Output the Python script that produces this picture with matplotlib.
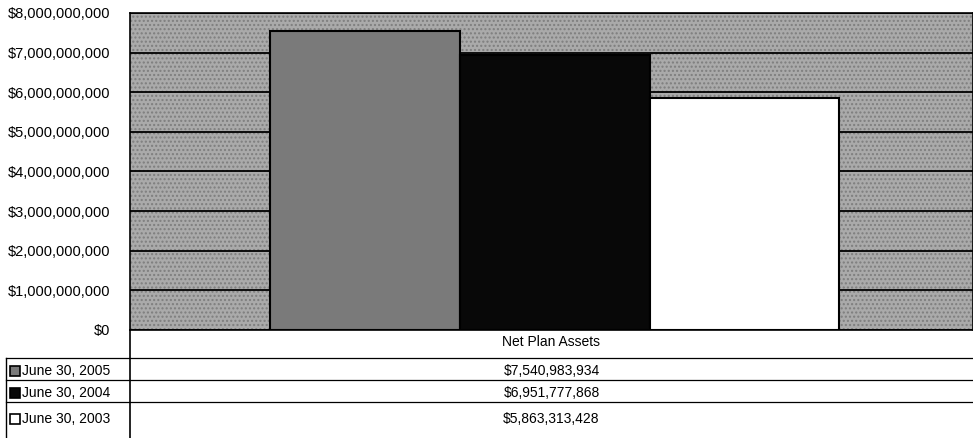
import matplotlib.pyplot as plt
from matplotlib.ticker import FuncFormatter

plt.rcParams['font.family'] = ['Liberation Sans', 'DejaVu Sans']

# data
category = 'Net Plan Assets'
series_labels = ['June 30, 2005', 'June 30, 2004', 'June 30, 2003']
series_values = [7540983934, 6951777868, 5863313428]
bar_colors = ['#7a7a7a', '#080808', '#ffffff']
y_ticks = [0, 1e9, 2e9, 3e9, 4e9, 5e9, 6e9, 7e9, 8e9]

W, H = 973, 438
fig = plt.figure(figsize=(W / 100, H / 100), dpi=100)

# main plot area (pixel box: x 130-973, y 13-330)
ax = fig.add_axes([130 / W, (H - 330) / H, 843 / W, (330 - 13) / H])
ax.set_facecolor('#aaaaaa')
ax.patch.set_hatch('....')
ax.patch.set_edgecolor('#7e7e7e')

bar_w = 0.225
offset = 0.004
for i, (lab, v, c) in enumerate(zip(series_labels, series_values, bar_colors)):
    ax.bar((i - 1) * bar_w + offset, v, width=bar_w, color=c, edgecolor='black',
           linewidth=1.5, zorder=3, label=lab)

ax.set_xlim(-0.5, 0.5)
ax.set_ylim(0, 8e9)
ax.set_yticks(y_ticks)
ax.yaxis.set_major_formatter(FuncFormatter(lambda v, p: f'${v:,.0f}'))
ax.tick_params(axis='y', length=0, labelsize=10.5, pad=14)
ax.set_xticks([])
ax.grid(axis='y', color='black', linewidth=1.3, zorder=1)
for s in ax.spines.values():
    s.set_linewidth(1.2)
    s.set_color('black')

# data table below the chart, drawn in pixel coordinates
tx = fig.add_axes([0, 0, 1, 1], zorder=-1)
tx.set_xlim(0, W)
tx.set_ylim(H, 0)
tx.axis('off')

row_lines = [358, 380, 402]
tx.plot([130, 130], [330, H], color='black', lw=1.2)
tx.plot([6, 6], [358, H], color='black', lw=1.0)
for yl in row_lines:
    tx.plot([6, W], [yl, yl], color='black', lw=0.9)

mid = (130 + W) / 2
tx.text(mid, 342, category, ha='center', va='center', fontsize=10)
row_centers = [371, 393, 419]
for lab, v, c, yc in zip(series_labels, series_values, bar_colors, row_centers):
    tx.plot([15], [yc], marker='s', markersize=7, markerfacecolor=c,
            markeredgecolor='black', markeredgewidth=1.2)
    tx.text(22, yc, lab, ha='left', va='center', fontsize=10)
    tx.text(mid, yc, f'${v:,.0f}', ha='center', va='center', fontsize=10)

fig.savefig('out.png', dpi=100)
